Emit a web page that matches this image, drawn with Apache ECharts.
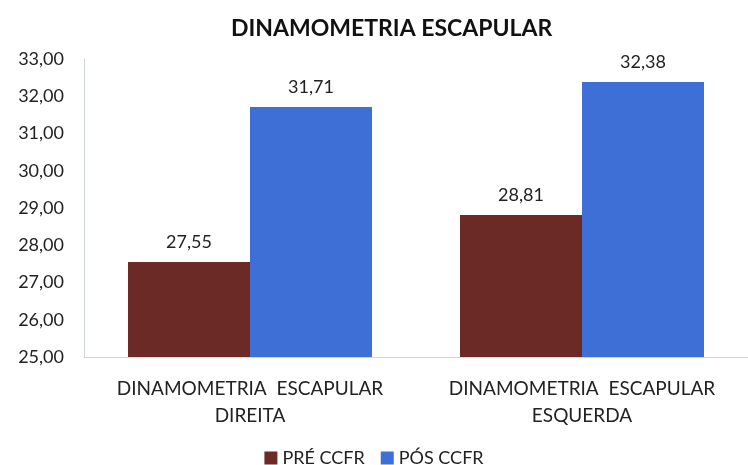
<!DOCTYPE html>
<html>
<head>
<meta charset="utf-8">
<script src="https://cdn.jsdelivr.net/npm/echarts@6/dist/echarts.min.js"></script>
<style>
  html, body { margin: 0; padding: 0; background: #fff; }
  #chart { width: 748px; height: 465px; }
</style>
</head>
<body>
<div id="chart"></div>
<script>
  // dados
  var categories = ['DINAMOMETRIA  ESCAPULAR\nDIREITA', 'DINAMOMETRIA  ESCAPULAR\nESQUERDA'];
  var seriesNames = ['PRÉ CCFR', 'PÓS CCFR'];
  var preValues = [27.55, 28.81];
  var posValues = [31.71, 32.38];

  function fmt(v) {
    return v.toFixed(2).replace('.', ',');
  }

  var font = 'Lato, "Open Sans", sans-serif';
  var myChart = echarts.init(document.getElementById('chart'));
  myChart.setOption({
    animation: false,
    title: {
      text: 'DINAMOMETRIA ESCAPULAR',
      left: 226,
      top: 12,
      textStyle: { fontFamily: font, fontSize: 23, fontWeight: 'bold', color: '#111' }
    },
    legend: {
      top: 444,
      left: 'center',
      itemWidth: 13,
      itemHeight: 13,
      itemGap: 16,
      icon: 'rect',
      data: seriesNames,
      textStyle: { fontFamily: font, fontSize: 18, color: '#222' }
    },
    grid: { left: 84, right: -4, top: 59, bottom: 108 },
    xAxis: {
      type: 'category',
      data: categories,
      axisLine: { lineStyle: { color: '#d0d4dc' } },
      axisTick: { show: false },
      axisLabel: {
        interval: 0,
        hideOverlap: false,
        fontFamily: font, fontSize: 19, color: '#222',
        margin: 18, lineHeight: 27
      }
    },
    yAxis: {
      type: 'value',
      min: 25,
      max: 33,
      interval: 1,
      axisLine: { show: true, lineStyle: { color: '#d0d4dc' } },
      axisTick: { show: false },
      splitLine: { show: false },
      axisLabel: {
        fontFamily: font, fontSize: 18, color: '#222', margin: 20,
        formatter: function (v) { return fmt(v); }
      }
    },
    series: [
      {
        name: seriesNames[0],
        type: 'bar',
        data: preValues,
        barWidth: 122,
        barGap: '0%',
        itemStyle: { color: '#6b2a25' },
        label: {
          show: true, position: 'top', distance: 11,
          fontFamily: font, fontSize: 18, color: '#222',
          formatter: function (p) { return fmt(p.value); }
        }
      },
      {
        name: seriesNames[1],
        type: 'bar',
        data: posValues,
        barWidth: 122,
        barGap: '0%',
        itemStyle: { color: '#3d6fd6' },
        label: {
          show: true, position: 'top', distance: 11,
          fontFamily: font, fontSize: 18, color: '#222',
          formatter: function (p) { return fmt(p.value); }
        }
      }
    ]
  });
</script>
</body>
</html>
